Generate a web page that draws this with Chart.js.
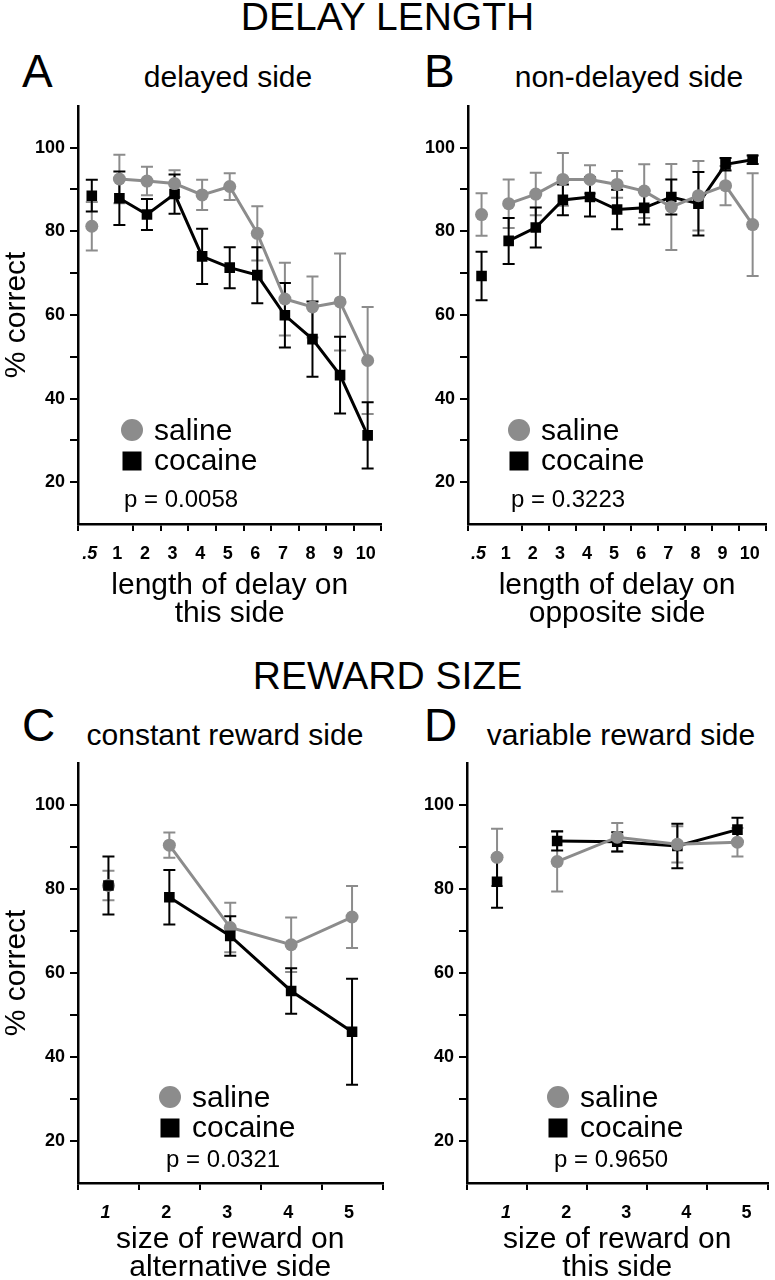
<!DOCTYPE html>
<html>
<head>
<meta charset="utf-8">
<script src="https://cdn.jsdelivr.net/npm/chart.js@4.4.1/dist/chart.umd.min.js"></script>
<style>
body { margin: 0; width: 775px; height: 1280px; overflow: hidden; background: #fff; position: relative;
       font-family: "Liberation Sans", Arial, sans-serif; }
.t { position: absolute; color: #000; white-space: nowrap; line-height: 1; }
.head { left: 0; width: 775px; text-align: center; font-size: 39px; }
.let { font-size: 46px; }
.sub { font-size: 30px; transform: translateX(-50%); }
canvas { position: absolute; }
</style>
</head>
<body>
<div class="t head" style="top:-3px">DELAY LENGTH</div>
<div class="t let" style="left:22px;top:48px">A</div>
<div class="t sub" style="left:228px;top:62px">delayed side</div>
<div class="t let" style="left:424px;top:48px">B</div>
<div class="t sub" style="left:629px;top:62px">non-delayed side</div>

<div class="t head" style="top:656px">REWARD SIZE</div>
<div class="t let" style="left:22px;top:702px">C</div>
<div class="t sub" style="left:225px;top:720px">constant reward side</div>
<div class="t let" style="left:424px;top:702px">D</div>
<div class="t sub" style="left:621px;top:720px">variable reward side</div>

<canvas id="chartA" width="390" height="540" style="left:0;top:90px"></canvas>
<canvas id="chartB" width="385" height="540" style="left:390px;top:90px"></canvas>
<canvas id="chartC" width="390" height="553" style="left:0;top:747px"></canvas>
<canvas id="chartD" width="385" height="553" style="left:390px;top:747px"></canvas>

<script>
// categories
let delayLabels = ['.5', '1', '2', '3', '4', '5', '6', '7', '8', '9', '10'];
let rewardLabels = ['1', '2', '3', '4', '5'];

// A - delayed side (% correct, +/- error)
let salineA    = [81.2, 92.5, 92.0, 91.4, 88.7, 90.7, 79.5, 63.8, 61.9, 63.1, 49.1];
let salineAErr = [5.8, 5.8, 3.4, 3.2, 3.6, 3.2, 6.5, 8.7, 7.3, 11.6, 12.8];
let cocaineA    = [88.5, 87.9, 84.0, 88.9, 74.0, 71.3, 69.5, 59.9, 54.2, 45.6, 31.2];
let cocaineAErr = [3.8, 6.4, 3.7, 4.7, 6.6, 4.9, 6.7, 7.7, 9.0, 9.2, 7.9];

// B - non-delayed side
let salineB    = [84.0, 86.6, 88.9, 92.4, 92.4, 91.2, 89.6, 85.8, 88.5, 90.9, 81.6];
let salineBErr = [5.1, 5.8, 5.1, 6.3, 3.4, 3.2, 6.4, 10.3, 8.3, 4.7, 12.3];
let cocaineB    = [69.3, 77.7, 80.9, 87.5, 88.2, 85.2, 85.6, 88.2, 86.6, 96.0, 97.1];
let cocaineBErr = [5.8, 5.5, 4.8, 3.7, 4.7, 4.7, 4.0, 4.2, 7.6, 1.5, 1.0];

// C - constant reward side
let salineC    = [80.8, 90.4, 70.8, 66.7, 73.3];
let salineCErr = [3.5, 3.0, 5.9, 6.5, 7.4];
let cocaineC    = [80.8, 78.0, 68.8, 55.7, 46.0];
let cocaineCErr = [6.9, 6.5, 4.7, 5.4, 12.6];

// D - variable reward side
let salineD    = [87.5, 86.5, 92.3, 90.6, 91.1];
let salineDErr = [6.8, 7.1, 3.4, 4.3, 3.4];
let cocaineD    = [81.7, 91.4, 91.2, 90.2, 94.1];
let cocaineDErr = [6.2, 2.3, 2.3, 5.3, 2.8];

let yTicks = [20, 40, 60, 80, 100];

const GREY = '#8c8c8c';
const FONT = '"Liberation Sans", Arial, sans-serif';

// error bars drawn from each dataset's errors array
const errorBars = {
    id: 'errorBars',
    beforeDatasetsDraw(chart) {
        const ctx = chart.ctx;
        const y = chart.scales.y;
        chart.data.datasets.forEach((ds, i) => {
            const meta = chart.getDatasetMeta(i);
            ctx.save();
            ctx.strokeStyle = ds.backgroundColor;
            ctx.lineWidth = 2;
            meta.data.forEach((pt, j) => {
                const v = ds.data[j], e = ds.errors[j];
                if (v == null || e == null) return;
                const top = y.getPixelForValue(v + e);
                const bot = y.getPixelForValue(v - e);
                ctx.beginPath();
                ctx.moveTo(pt.x, top); ctx.lineTo(pt.x, bot);
                ctx.moveTo(pt.x - 6, top); ctx.lineTo(pt.x + 6, top);
                ctx.moveTo(pt.x - 6, bot); ctx.lineTo(pt.x + 6, bot);
                ctx.stroke();
            });
            ctx.restore();
        });
    }
};

// little key + p value inside the plot
const key = {
    id: 'key',
    afterDraw(chart, args, o) {
        const ctx = chart.ctx;
        const a = chart.chartArea;
        const sal = chart.data.datasets[0], coc = chart.data.datasets[1];
        const cx = a.left + o.cx, cy = a.bottom - o.cy;
        ctx.save();
        ctx.fillStyle = sal.backgroundColor;
        ctx.beginPath();
        ctx.arc(cx, cy, 11, 0, Math.PI * 2);
        ctx.fill();
        ctx.fillStyle = coc.backgroundColor;
        ctx.fillRect(cx - 9.5, cy + 31 - 9.5, 19, 19);
        ctx.fillStyle = '#000';
        ctx.textBaseline = 'alphabetic';
        ctx.font = '30px ' + FONT;
        ctx.fillText(sal.label, cx + 22, cy + 10);
        ctx.fillText(coc.label, cx + 22, cy + 40);
        ctx.font = '24px ' + FONT;
        ctx.fillText(o.p, a.left + o.px, a.bottom - o.py);
        ctx.restore();
    }
};

function makePanel(id, labels, sal, salErr, coc, cocErr, cfg) {
    new Chart(id, {
        type: 'line',
        data: {
            labels: labels,
            datasets: [
                {
                    label: 'saline',
                    data: sal,
                    errors: salErr,
                    borderColor: GREY,
                    backgroundColor: GREY,
                    borderWidth: 3,
                    pointStyle: 'circle',
                    pointRadius: 6.5,
                    pointBorderWidth: 0,
                    segment: { borderColor: c => c.p0DataIndex === 0 ? 'transparent' : GREY },
                    order: cfg.cocaineOnTop ? 1 : 0
                },
                {
                    label: 'cocaine',
                    data: coc,
                    errors: cocErr,
                    borderColor: '#000',
                    backgroundColor: '#000',
                    borderWidth: 3,
                    pointStyle: 'rect',
                    pointRadius: 7.5,
                    pointBorderWidth: 0,
                    segment: { borderColor: c => c.p0DataIndex === 0 ? 'transparent' : '#000' },
                    order: cfg.cocaineOnTop ? 0 : 1
                }
            ]
        },
        options: {
            responsive: false,
            animation: false,
            layout: { padding: { top: 10, right: cfg.padRight, left: 0, bottom: 0 } },
            plugins: {
                legend: { display: false },
                tooltip: { enabled: false },
                key: cfg.key
            },
            scales: {
                x: {
                    type: 'category',
                    offset: true,
                    grid: {
                        offset: true,
                        drawOnChartArea: false,
                        tickLength: 7,
                        lineWidth: 2,
                        color: c => (cfg.hideTick != null && c.index === cfg.hideTick) ? 'transparent' : '#000'
                    },
                    border: { color: '#000', width: 2.5 },
                    ticks: {
                        color: '#000',
                        autoSkip: false,
                        maxRotation: 0,
                        padding: 12,
                        labelOffset: cfg.labelOffset,
                        font: c => ({ family: FONT, size: 18, weight: 'bold', style: c.index === 0 ? 'italic' : 'normal' })
                    },
                    title: {
                        display: true,
                        text: cfg.xTitle,
                        color: '#000',
                        font: { family: FONT, size: 30, lineHeight: 0.95 },
                        padding: { top: 0, bottom: cfg.titlePad }
                    },
                    afterFit: s => { s.height = cfg.xHeight; }
                },
                y: {
                    min: 10,
                    max: 110,
                    grid: {
                        drawOnChartArea: false,
                        tickLength: 8,
                        lineWidth: 2,
                        color: c => (c.tick && (c.tick.value === 10 || c.tick.value === 110)) ? 'transparent' : '#000'
                    },
                    border: { color: '#000', width: 2.5 },
                    ticks: {
                        stepSize: 10,
                        color: '#000',
                        padding: 5,
                        font: { family: FONT, size: 18, weight: 'bold' },
                        callback: v => yTicks.includes(v) ? v : ''
                    },
                    title: {
                        display: cfg.yTitle,
                        text: '% correct',
                        color: '#000',
                        font: { family: FONT, size: 30, lineHeight: 1.1 },
                        padding: { top: 0, bottom: 0 }
                    },
                    afterFit: s => { s.width = cfg.yWidth; }
                }
            }
        },
        plugins: [errorBars, key]
    });
}

makePanel('chartA', delayLabels, salineA, salineAErr, cocaineA, cocaineAErr, {
    padRight: 4, hideTick: 1, labelOffset: -2, yWidth: 78, xHeight: 106, titlePad: 2, yTitle: true,
    xTitle: ['length of delay on', 'this side'],
    key: { cx: 54, cy: 94, px: 46, py: 17, p: 'p = 0.0058' }
});
makePanel('chartB', delayLabels, salineB, salineBErr, cocaineB, cocaineBErr, {
    padRight: 1, hideTick: 1, labelOffset: -3, yWidth: 78, xHeight: 106, titlePad: 2, yTitle: false,
    xTitle: ['length of delay on', 'opposite side'],
    key: { cx: 51, cy: 94, px: 43, py: 17, p: 'p = 0.3223' }
});
makePanel('chartC', rewardLabels, salineC, salineCErr, cocaineC, cocaineCErr, {
    padRight: 5, hideTick: null, labelOffset: -3, yWidth: 78, xHeight: 117, titlePad: 18, yTitle: true,
    cocaineOnTop: true,
    xTitle: ['size of reward on', 'alternative side'],
    key: { cx: 92, cy: 86, px: 88, py: 16, p: 'p = 0.0321' }
});
makePanel('chartD', rewardLabels, salineD, salineDErr, cocaineD, cocaineDErr, {
    padRight: 2, hideTick: null, labelOffset: 9, yWidth: 77, xHeight: 117, titlePad: 18, yTitle: false,
    xTitle: ['size of reward on', 'this side'],
    key: { cx: 91, cy: 86, px: 87, py: 16, p: 'p = 0.9650' }
});
</script>
</body>
</html>
